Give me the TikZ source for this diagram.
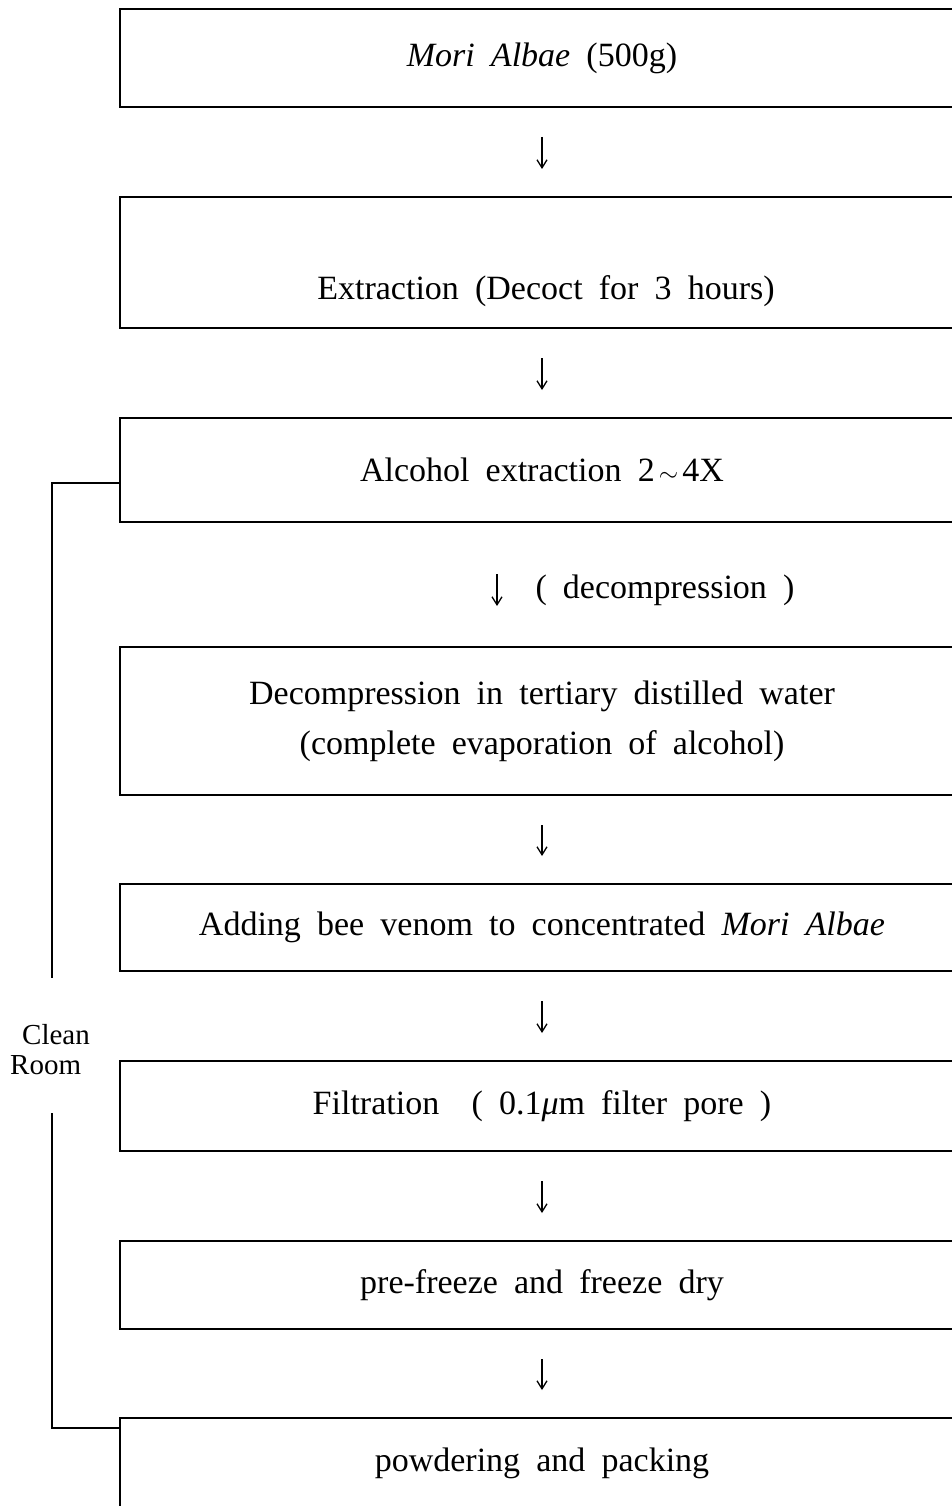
\documentclass[tikz,border=0pt]{standalone}
\usepackage{fontspec}
\setmainfont{Liberation Serif}[WordSpace=1.9]
\usetikzlibrary{arrows.meta}
\tikzset{
  box/.style={draw, line width=1.6pt, minimum width=844pt, inner sep=0pt, outer sep=0pt,
    align=center, font=\fontsize{34}{50}\selectfont},
  lbl/.style={inner sep=0pt, align=center, font=\fontsize{34}{50}\selectfont},
  arr/.style={line width=1.3pt, -{Straight Barb[length=8pt,width=10pt]}, shorten <=30pt, shorten >=28pt},
  bracket/.style={line width=1.5pt},
}
\begin{document}
\begin{tikzpicture}[x=1pt,y=-1pt]
\useasboundingbox (0,0) rectangle (952,1506);
\clip (0,0) rectangle (952,1506);
% boxes
\node[box, minimum height=98pt]  (b1) at (542,58)    {\textit{Mori Albae} (500g)};
\node[box, minimum height=131pt] (b2) at (542,262.5) {};
\node[lbl] (t2) at (546,291) {Extraction (Decoct for 3 hours)};
\node[box, minimum height=104pt] (b3) at (542,470)   {Alcohol extraction 2$\,\sim\,$4X};
\node[box, minimum height=148pt] (b4) at (542,721)   {Decompression in tertiary distilled water\\(complete evaporation of alcohol)};
\node[box, minimum height=87pt]  (b5) at (542,927.5) {Adding bee venom to concentrated \textit{Mori Albae}};
\node[box, minimum height=90pt]  (b6) at (542,1106)  {Filtration \ ( 0.1\textit{μ}m filter pore )};
\node[box, minimum height=88pt]  (b7) at (542,1285)  {pre-freeze and freeze dry};
\node[box, minimum height=102pt] (b8) at (542,1469)  {};
\node[lbl] (t8) at (542,1463) {powdering and packing};
% arrows
\draw[arr] (b1.south) -- (b2.north);
\draw[arr] (b2.south) -- (b3.north);
\draw[arr, shorten <=52pt, shorten >=41pt] ([xshift=-45pt]b3.south) -- ([xshift=-45pt]b4.north);
\node[lbl] (dec) at (665,590) {( decompression )};
\draw[arr] (b4.south) -- (b5.north);
\draw[arr] (b5.south) -- (b6.north);
\draw[arr] (b6.south) -- (b7.north);
\draw[arr] (b7.south) -- (b8.north);
% clean room bracket
\node[inner sep=0pt, anchor=west, align=left, font=\fontsize{29}{30}\selectfont] (cr) at (10,1050) {\hspace*{12pt}Clean\\Room};
\coordinate (k1) at (52,483);
\coordinate (k2) at (52,978);
\coordinate (k3) at (52,1113);
\coordinate (k4) at (52,1428);
\draw[bracket] (b3.west |- k1) -- (k1) -- (k2);
\draw[bracket] (k3) -- (k4) -- (b8.west |- k4);
\end{tikzpicture}
\end{document}
